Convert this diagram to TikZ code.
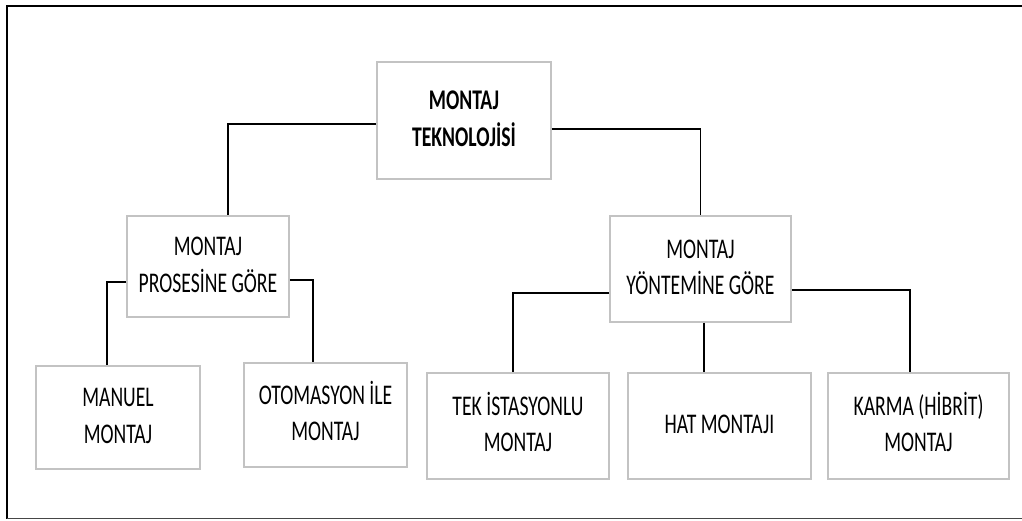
\documentclass[tikz,border=0pt]{standalone}
\usepackage{fontspec}
\setmainfont{Carlito}
\usepackage{graphicx}
\definecolor{boxgray}{RGB}{195,195,195}
\definecolor{framegray}{RGB}{70,70,70}
\newcommand{\lbl}[1]{\scalebox{0.69}[1]{\begin{tabular}{@{}c@{}}#1\end{tabular}}}
\tikzset{
  box/.style={draw=boxgray, line width=1.6pt, fill=white, rectangle, inner sep=0pt,
              font=\fontsize{28.5}{36.5}\selectfont, text=black},
  conn/.style={draw=black, line width=1.4pt},
  frame/.style={line width=2pt}
}
\begin{document}
\begin{tikzpicture}[x=1pt,y=-1pt]
\useasboundingbox (0,0) rectangle (1022,520);
% outer frame (open on the right)
\coordinate (f1) at (1022,6);
\coordinate (f2) at (7,6);
\coordinate (f3) at (7,518.5);
\coordinate (f4) at (1022,518.5);
\draw[frame] (f1) -- (f2) -- (f3);
\draw[framegray, line width=1.4pt] (f3) -- (f4);

% nodes
\node[box, minimum width=174pt, minimum height=117pt] (top) at (464,120.5)
  {\bfseries\lbl{MONTAJ\\TEKNOLOJİSİ}};
\node[box, minimum width=162pt, minimum height=101pt] (proc) at (208,266.5)
  {\lbl{MONTAJ\\PROSESİNE GÖRE}};
\node[box, minimum width=181pt, minimum height=106pt] (yont) at (700.5,269)
  {\lbl{MONTAJ\\YÖNTEMİNE GÖRE}};
\node[box, minimum width=164pt, minimum height=103pt] (manuel) at (118,417.5)
  {\lbl{MANUEL\\MONTAJ}};
\node[box, minimum width=163pt, minimum height=104pt] (otom) at (325.5,415)
  {\lbl{OTOMASYON İLE\\MONTAJ}};
\node[box, minimum width=182pt, minimum height=106pt] (tek) at (518,426)
  {\lbl{TEK İSTASYONLU\\MONTAJ}};
\node[box, minimum width=183pt, minimum height=106pt] (hat) at (719.5,426)
  {\lbl{HAT MONTAJI}};
\node[box, minimum width=181pt, minimum height=106pt] (karma) at (918.5,426)
  {\lbl{KARMA (HİBRİT)\\MONTAJ}};

% connectors
\draw[conn] ([yshift=-3.5pt]top.west) -| ([xshift=20pt]proc.north);
\draw[conn] ([yshift=-8.5pt]top.east) -| (yont.north);
\draw[conn] ([yshift=-15.5pt]proc.west) -| ([xshift=-11pt]manuel.north);
\draw[conn] ([yshift=-13.5pt]proc.east) -| ([xshift=-12.5pt]otom.north);
\draw[conn] ([yshift=-24pt]yont.west) -| ([xshift=-5pt]tek.north);
\draw[conn] ([xshift=3.5pt]yont.south) -- ([xshift=-15.5pt]hat.north);
\draw[conn] ([yshift=-21pt]yont.east) -| ([xshift=-8.5pt]karma.north);
\end{tikzpicture}
\end{document}
